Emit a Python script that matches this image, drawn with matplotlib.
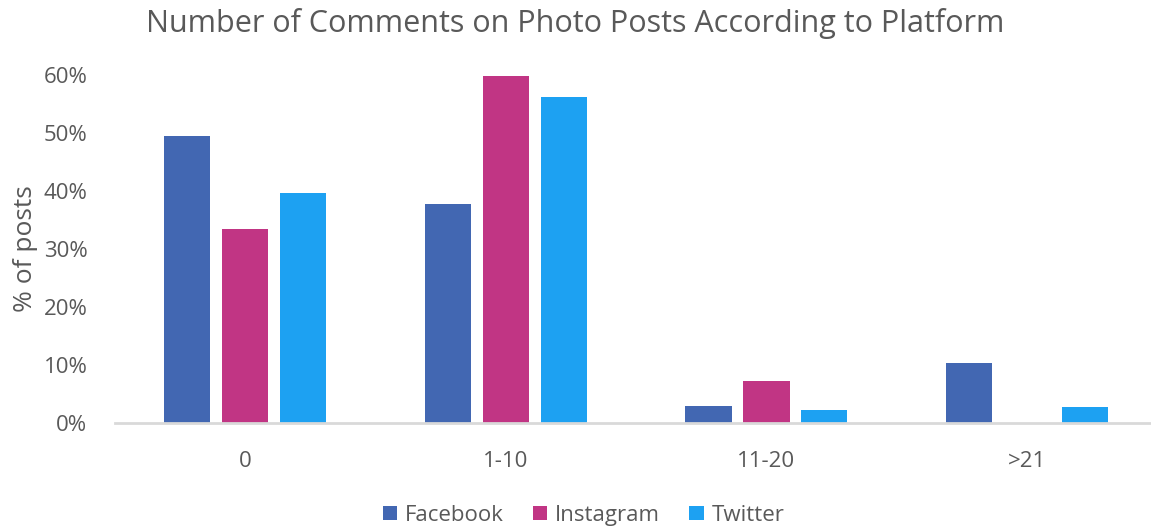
import matplotlib.pyplot as plt
import numpy as np
from matplotlib.ticker import PercentFormatter

plt.rcParams['font.family'] = ['Open Sans', 'DejaVu Sans']

categories = ['0', '1-10', '11-20', '>21']
facebook = [0.494, 0.378, 0.030, 0.104]
instagram = [0.335, 0.599, 0.072, 0.0]
twitter = [0.396, 0.562, 0.022, 0.027]

grey = '#595959'
fig = plt.figure(figsize=(11.51, 5.28), dpi=100)
ax = fig.add_axes([0.1, 0.199, 0.9, 0.659])

x = np.arange(len(categories))
w = 0.177
step = 0.2226
ax.bar(x - step, facebook, w, color='#4267B2', label='Facebook')
ax.bar(x, instagram, w, color='#C13584', label='Instagram')
ax.bar(x + step, twitter, w, color='#1DA1F2', label='Twitter')

ax.set_xlim(-0.5, 3.476)
ax.set_ylim(0, 0.6)
ax.set_xticks(x)
ax.set_xticklabels(categories)
ax.set_yticks(np.arange(0, 0.61, 0.1))
ax.yaxis.set_major_formatter(PercentFormatter(1.0, decimals=0))
ax.tick_params(length=0, labelsize=16, colors=grey)
ax.tick_params(axis='x', pad=20)
ax.tick_params(axis='y', pad=20)
for s in ['top', 'right', 'left']:
    ax.spines[s].set_visible(False)
ax.spines['bottom'].set_color('#d9d9d9')
ax.spines['bottom'].set_linewidth(2)

ax.set_ylabel('% of posts', fontsize=19, color=grey, labelpad=4)
fig.text(0.5, 0.955, 'Number of Comments on Photo Posts According to Platform',
         ha='center', va='center', fontsize=22, color=grey)

fig.legend(loc='center', bbox_to_anchor=(0.507, 0.024), ncol=3, frameon=False,
           fontsize=16, labelcolor=grey, handlelength=0.65, handleheight=0.65,
           handletextpad=0.35, columnspacing=1.3)

plt.savefig('out.png', dpi=100, facecolor='white')
